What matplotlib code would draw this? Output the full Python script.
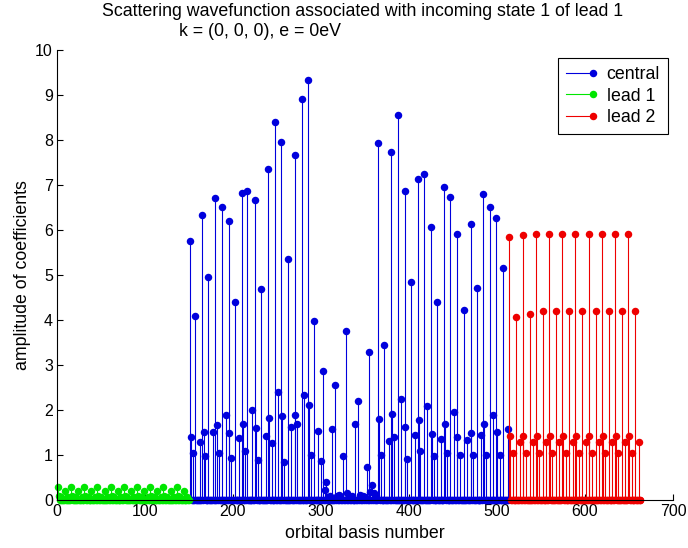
import numpy as np
import matplotlib
matplotlib.use("Agg")
import matplotlib.pyplot as plt
from matplotlib.lines import Line2D
from matplotlib.legend_handler import HandlerBase

plt.rcParams['font.family'] = ['Liberation Sans', 'DejaVu Sans']

# ---------------- data ----------------
title_line1 = "Scattering wavefunction associated with incoming state 1 of lead 1"
title_line2 = "k = (0, 0, 0), e = 0eV"
xlabel = "orbital basis number"
ylabel = "amplitude of coefficients"
series_names = ["central", "lead 1", "lead 2"]
xticks = [0, 100, 200, 300, 400, 500, 600, 700]
yticks = [0, 1, 2, 3, 4, 5, 6, 7, 8, 9, 10]

# index ranges of each region
lead1_range = (1, 150)
central_range = (151, 513)
lead2_range = (514, 663)

# nonzero amplitudes (index, value)
lead1_idx = [1, 2, 5, 9, 13, 16, 17, 20, 24, 28, 31, 32, 35, 39, 43, 46, 47, 50, 54, 58,
             61, 62, 65, 69, 73, 76, 77, 80, 84, 88, 91, 92, 95, 99, 103, 106, 107, 110, 114, 118,
             121, 122, 125, 129, 133, 136, 137, 140, 144, 148]
lead1_val = [0.30, 0.08, 0.06, 0.21, 0.07, 0.30, 0.08, 0.06, 0.21, 0.07,
             0.30, 0.08, 0.06, 0.21, 0.07, 0.30, 0.08, 0.06, 0.21, 0.07,
             0.30, 0.08, 0.06, 0.21, 0.07, 0.30, 0.08, 0.06, 0.21, 0.07,
             0.30, 0.08, 0.06, 0.21, 0.07, 0.30, 0.08, 0.06, 0.21, 0.07,
             0.30, 0.08, 0.06, 0.21, 0.07, 0.30, 0.08, 0.06, 0.21, 0.07]

central_idx = [151, 152, 154, 157, 162, 165, 167, 168, 172, 177, 180, 182, 184, 187, 192,
               195, 196, 198, 202, 207, 210, 211, 214, 216, 222, 225, 226, 228, 232, 237,
               240, 241, 244, 248, 251, 255, 256, 258, 262, 266, 270, 271, 273, 278, 281,
               285, 286, 289, 292, 297, 300, 302, 304, 306, 308, 310, 313, 316, 318, 320,
               322, 325, 328, 330, 332, 335, 339, 342, 344, 346, 348, 350, 352, 354, 356,
               358, 360, 362, 365, 366, 368, 372, 377, 380, 381, 383, 387, 391, 395, 396,
               398, 402, 407, 410, 411, 413, 417, 421, 425, 426, 428, 432, 436, 440, 441,
               443, 447, 451, 454, 455, 458, 462, 466, 470, 471, 473, 477, 482, 484, 485,
               488, 492, 496, 499, 500, 503, 507, 512]
central_val = [5.75, 1.39, 1.05, 4.08, 1.28, 6.33, 1.51, 0.98, 4.96, 1.51, 6.70, 1.66, 1.05, 6.52, 1.89,
               6.20, 1.50, 0.93, 4.41, 1.37, 6.82, 1.68, 1.10, 6.87, 1.99, 6.66, 1.60, 0.89, 4.70, 1.43,
               7.35, 1.83, 1.26, 8.41, 2.39, 7.96, 1.87, 0.84, 5.35, 1.62, 7.66, 1.89, 1.68, 8.91, 2.33,
               9.33, 2.12, 0.99, 3.97, 1.54, 0.87, 2.87, 0.22, 0.39, 0.06, 0.08, 1.58, 2.56, 0.10, 0.12,
               0.10, 0.97, 3.75, 0.15, 0.08, 0.10, 1.70, 2.19, 0.12, 0.08, 0.10, 0.06, 0.74, 3.30, 0.18,
               0.33, 0.15, 0.10, 7.93, 1.81, 1.01, 3.44, 1.31, 7.73, 1.92, 1.41, 8.56, 2.24, 6.87, 1.62,
               0.92, 4.84, 1.45, 7.14, 1.77, 1.10, 7.24, 2.08, 6.07, 1.46, 0.98, 4.39, 1.35, 6.95, 1.70,
               1.04, 6.73, 1.96, 5.91, 1.41, 1.01, 4.22, 1.33, 6.14, 1.50, 1.01, 4.72, 1.45, 6.81, 1.69,
               1.01, 6.50, 1.90, 6.27, 1.52, 1.01, 5.16, 1.57]

lead2_idx = [514, 515, 518, 522, 526, 529, 530, 533, 537, 541, 544, 545, 548, 552, 556,
             559, 560, 563, 567, 571, 574, 575, 578, 582, 586, 589, 590, 593, 597, 601,
             604, 605, 608, 612, 616, 619, 620, 623, 627, 631, 634, 635, 638, 642, 646,
             649, 650, 653, 657, 661]
lead2_val = [5.85, 1.42, 1.04, 4.06, 1.29, 5.89, 1.42, 1.04, 4.13, 1.29,
             5.91, 1.42, 1.04, 4.21, 1.29, 5.91, 1.42, 1.04, 4.20, 1.29,
             5.91, 1.42, 1.04, 4.20, 1.29, 5.91, 1.42, 1.04, 4.20, 1.29,
             5.91, 1.42, 1.04, 4.20, 1.29, 5.91, 1.42, 1.04, 4.20, 1.29,
             5.91, 1.42, 1.04, 4.20, 1.29, 5.91, 1.42, 1.04, 4.20, 1.29]

colors = {"central": "#0000dd", "lead 1": "#00e600", "lead 2": "#ee0000"}
MS = 5.4


def full_series(rng, idx, val):
    x = np.arange(rng[0], rng[1] + 1)
    y = np.zeros(len(x))
    for i, v in zip(idx, val):
        y[i - rng[0]] = v
    return x, y


class StemLegendHandler(HandlerBase):
    def create_artists(self, legend, orig_handle, xdescent, ydescent, width, height,
                       fontsize, trans):
        yc = height / 2 - ydescent
        c = orig_handle.get_color()
        line = Line2D([-xdescent, width - xdescent], [yc, yc], color=c, linewidth=0.8)
        mk = Line2D([width - xdescent], [yc], color=c, marker='o', markersize=MS,
                    markeredgewidth=0, linestyle='none')
        line.set_transform(trans)
        mk.set_transform(trans)
        return [line, mk]


fig = plt.figure(figsize=(6.88, 5.48), dpi=100)
W, H = 688, 548
ax = fig.add_axes([57 / W, 1 - 500 / H, (673 - 57) / W, (500 - 50) / H])

series = [
    ("central", central_range, central_idx, central_val),
    ("lead 1", lead1_range, lead1_idx, lead1_val),
    ("lead 2", lead2_range, lead2_idx, lead2_val),
]
for name, rng, idx, val in series:
    x, y = full_series(rng, idx, val)
    c = colors[name]
    ml, sl, bl = ax.stem(x, y, linefmt='-', markerfmt='o', basefmt=' ')
    sl.set_color(c)
    sl.set_linewidth(0.8)
    sl.set_clip_on(False)
    ml.set_color(c)
    ml.set_markersize(MS)
    ml.set_markeredgewidth(0)
    ml.set_clip_on(False)
    bl.set_visible(False)

ax.set_xlim(0, 700)
ax.set_ylim(0, 10)
ax.set_xticks(xticks)
ax.set_yticks(yticks)
ax.tick_params(direction='in', length=4, width=0.8, labelsize=11.5, pad=3)
for s in ['top', 'right']:
    ax.spines[s].set_visible(False)
for s in ['left', 'bottom']:
    ax.spines[s].set_linewidth(0.8)
ax.set_xlabel(xlabel, fontsize=12.8, labelpad=4)
ax.set_ylabel(ylabel, fontsize=12.8, labelpad=3)

handles = [Line2D([0, 1], [0, 0], color=colors[n]) for n in series_names]
leg = ax.legend(handles, series_names, loc='upper right', bbox_to_anchor=(0.992, 0.982),
                borderaxespad=0, fontsize=12.8, frameon=True, fancybox=False, framealpha=1,
                edgecolor='black', handlelength=1.55, handletextpad=0.75,
                labelspacing=0.25, borderpad=0.45,
                handler_map={Line2D: StemLegendHandler()})
leg.get_frame().set_linewidth(0.8)

fig.text(363 / W, 1 - 12 / H, title_line1, ha='center', va='center', fontsize=12.8)
fig.text(260 / W, 1 - 32 / H, title_line2, ha='center', va='center', fontsize=12.8)

fig.savefig("out.png", dpi=100)
